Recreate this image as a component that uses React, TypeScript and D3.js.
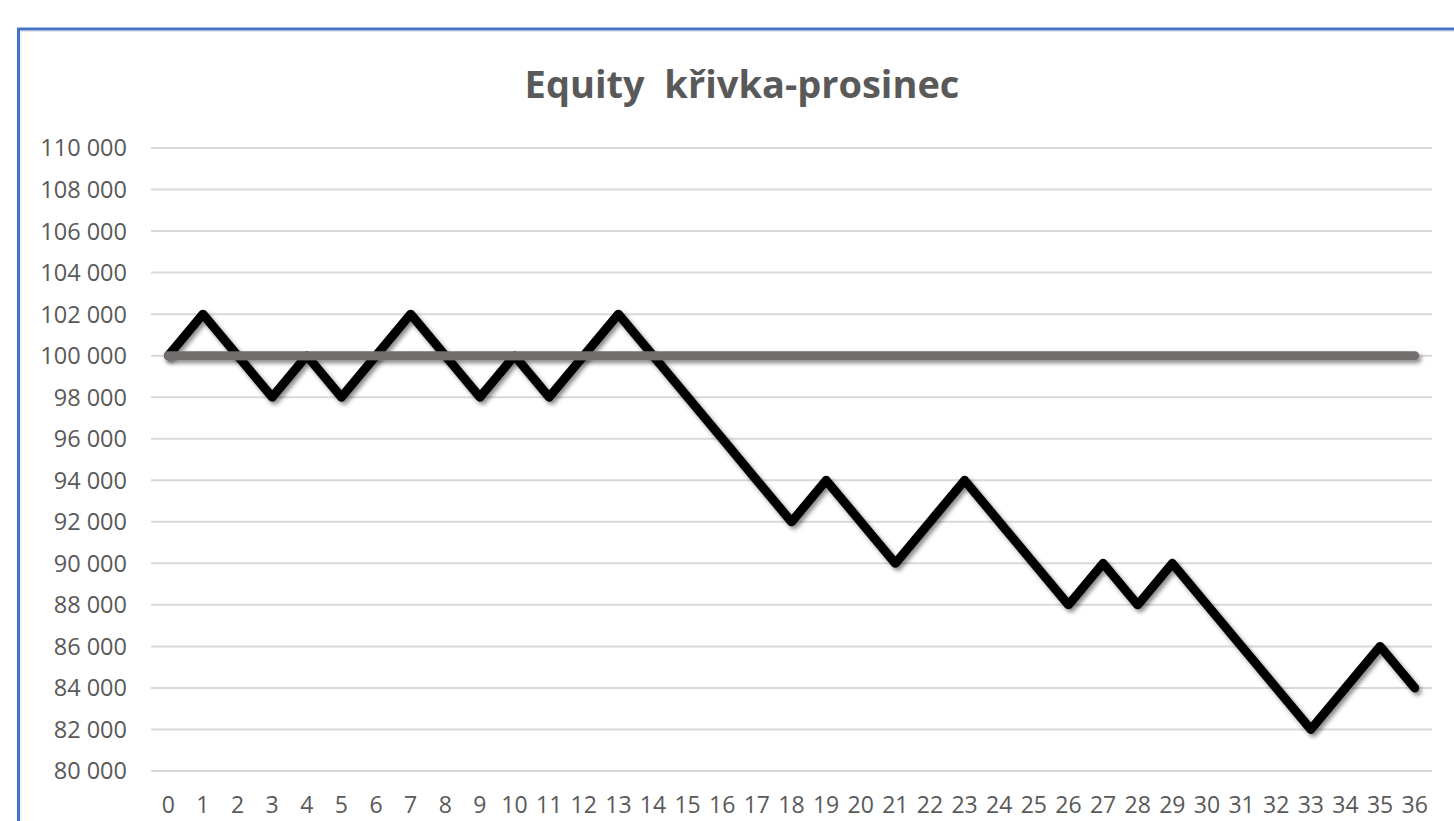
import React from "react";
import * as d3 from "d3";

// Values
const trades = d3.range(0, 37);
const equity = [
  100000, 102000, 100000, 98000, 100000, 98000, 100000, 102000, 100000, 98000,
  100000, 98000, 100000, 102000, 100000, 98000, 96000, 94000, 92000, 94000,
  92000, 90000, 92000, 94000, 92000, 90000, 88000, 90000, 88000, 90000,
  88000, 86000, 84000, 82000, 84000, 86000, 84000,
];
const startBalance = trades.map(() => 100000);
const yTicks = d3.range(80000, 110001, 2000);

const W = 1454;
const H = 821;
const margin = { left: 151, right: 22, top: 148, bottom: 50 };

const fmt = (v: number) => d3.format(",")(v).replace(/,/g, " ");

export default function App() {
  const x = d3
    .scaleBand<number>()
    .domain(trades)
    .range([margin.left, W - margin.right]);
  const y = d3
    .scaleLinear()
    .domain([80000, 110000])
    .range([771, margin.top]);

  const cx = (i: number) => (x(i) ?? 0) + x.bandwidth() / 2;
  const line = d3
    .line<number>()
    .x((_, i) => cx(i))
    .y((d) => y(d));

  return (
    <svg
      width={W}
      height={H}
      style={{ position: "absolute", left: 0, top: 0, display: "block", background: "#fff" }}
    >
      <defs>
        {/* user space region so the flat line still gets its shadow */}
        <filter id="shadow" filterUnits="userSpaceOnUse" x={0} y={0} width={W} height={H}>
          <feDropShadow dx="2.5" dy="3" stdDeviation="2.2" floodColor="#000" floodOpacity="0.45" />
        </filter>
      </defs>

      {/* chart frame */}
      <rect x={18.5} y={29} width={W + 20} height={H + 20} fill="none" stroke="#4472c4" strokeWidth={3} />
      <rect x={21} y={31.5} width={W + 20} height={H + 20} fill="none" stroke="#e6e6e6" strokeWidth={1} />

      <text
        x={742}
        y={98}
        textAnchor="middle"
        fontFamily="Open Sans"
        fontWeight="bold"
        fontSize={38}
        fill="#595959"
        style={{ whiteSpace: "pre" }}
      >
        {"Equity  křivka-prosinec"}
      </text>

      {yTicks.map((t) => (
        <g key={t}>
          <line x1={margin.left} x2={W - margin.right} y1={y(t)} y2={y(t)} stroke="#d9d9d9" strokeWidth={2} />
          <text
            x={127}
            y={y(t)}
            dy="0.36em"
            textAnchor="end"
            fontFamily="Open Sans"
            fontSize={23.5}
            fill="#595959"
          >
            {fmt(t)}
          </text>
        </g>
      ))}

      {trades.map((t) => (
        <text
          key={t}
          x={cx(t)}
          y={813}
          textAnchor="middle"
          fontFamily="Open Sans"
          fontSize={23}
          fill="#595959"
        >
          {t}
        </text>
      ))}

      <path
        d={line(equity) ?? ""}
        fill="none"
        stroke="#000"
        strokeWidth={9}
        strokeLinejoin="round"
        strokeLinecap="round"
        filter="url(#shadow)"
      />
      <path
        d={line(startBalance) ?? ""}
        fill="none"
        stroke="#736e6e"
        strokeWidth={9}
        strokeLinecap="round"
        filter="url(#shadow)"
      />
    </svg>
  );
}
